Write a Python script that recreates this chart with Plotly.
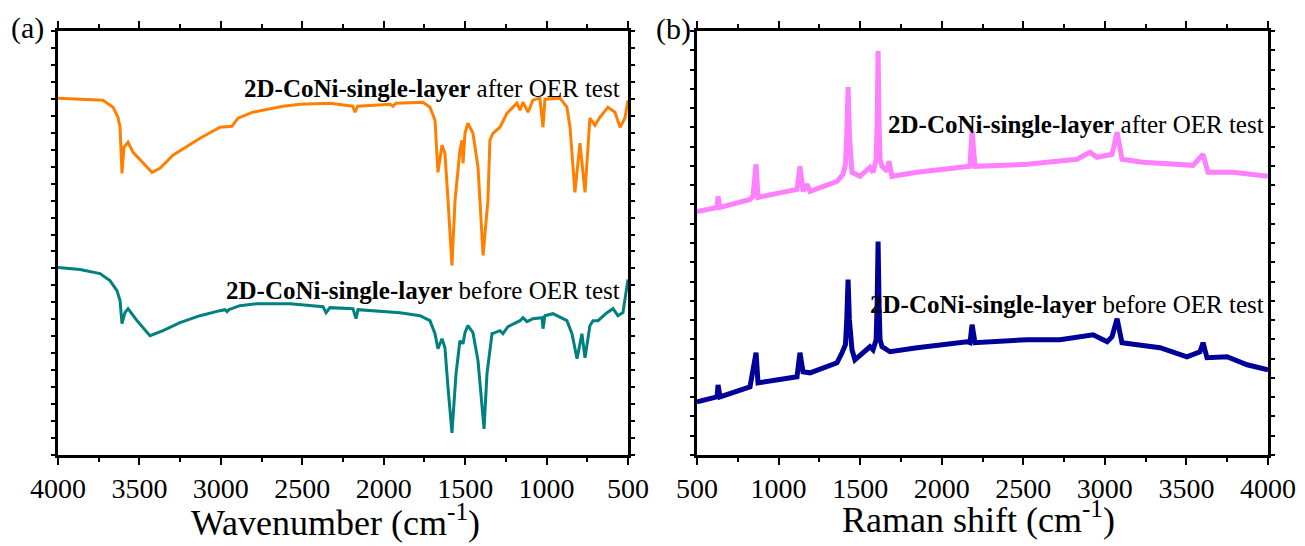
import plotly.graph_objects as go

# ---------------- data ----------------
# (a) FT-IR, wavenumber (cm-1) vs transmittance (a.u.)
ir_after_x = [4000, 3724, 3662, 3632, 3619, 3607, 3595, 3570, 3539, 3478, 3423, 3374, 3294,
              3128, 3005, 2932, 2895, 2803, 2618, 2514, 2330, 2190, 2176, 2160, 1960, 1943,
              1925, 1759, 1716, 1685, 1667, 1642, 1624, 1605, 1581, 1562, 1532, 1519, 1513,
              1501, 1483, 1452, 1421, 1409, 1390, 1360, 1348, 1329, 1286, 1243, 1182, 1163,
              1145, 1114, 1084, 1041, 1022, 1010, 918, 875, 856, 826, 795, 764, 734, 703,
              672, 623, 580, 549, 519, 500]
ir_after_y = [356, 354, 347, 337, 327, 281, 307, 312, 302, 291, 282, 286, 299,
              316, 327, 328, 336, 342, 348, 350, 351, 348, 342, 348, 350, 348,
              351, 352, 347, 334, 282, 309, 301, 254, 189, 254, 304, 314, 291,
              321, 331, 321, 287, 254, 199, 254, 314, 321, 327, 341, 351, 344,
              352, 342, 354, 356, 327, 355, 356, 347, 327, 262, 311, 262, 336, 329,
              337, 347, 342, 327, 336, 354]

ir_before_x = [4000, 3865, 3742, 3681, 3638, 3619, 3607, 3589, 3570, 3515, 3435, 3355, 3251,
               3128, 3005, 2975, 2962, 2950, 2883, 2778, 2575, 2373, 2354, 2330, 2189, 2170,
               2158, 1900, 1777, 1716, 1685, 1667, 1642, 1624, 1605, 1581, 1556, 1532, 1513,
               1501, 1483, 1452, 1421, 1384, 1366, 1335, 1317, 1286, 1268, 1237, 1163, 1145,
               1120, 1084, 1028, 1022, 1010, 961, 875, 844, 813, 783, 764, 734, 715, 684,
               629, 592, 562, 531, 506, 500]
ir_before_y = [187, 185, 181, 174, 164, 154, 131, 142, 146, 134, 119, 124, 132,
               139, 144, 145, 143, 145, 149, 151, 151, 148, 142, 147, 146, 136,
               145, 142, 139, 134, 121, 106, 116, 107, 67, 22, 81, 114, 111,
               122, 129, 122, 94, 26, 81, 121, 122, 124, 121, 128, 134, 137,
               133, 136, 137, 126, 139, 141, 134, 121, 96, 121, 97, 129, 134, 134,
               142, 146, 139, 142, 169, 175]

# (b) Raman, Raman shift (cm-1) vs intensity (a.u.)
ra_after_x = [500, 623, 629, 641, 825, 843, 862, 874, 1113, 1131, 1150, 1174, 1193, 1358,
              1395, 1410, 1418, 1426, 1434, 1442, 1450, 1499, 1560, 1579, 1598, 1604, 1610,
              1616, 1622, 1634, 1665, 1677, 1695, 1849, 2155, 2173, 2186, 2204, 2523, 2829,
              2909, 2952, 3044, 3075, 3105, 3234, 3540, 3602, 3632, 3786, 4000]
ra_after_y = [243, 247, 258, 247, 255, 258, 290, 257, 265, 288, 263, 270, 263, 273,
              280, 290, 320, 367, 320, 292, 282, 278, 287, 282, 295, 330, 403,
              330, 295, 288, 283, 293, 278, 282, 287, 288, 323, 288, 290, 295,
              302, 297, 300, 322, 295, 292, 289, 300, 282, 282, 278]

ra_before_x = [500, 623, 629, 641, 825, 862, 874, 1113, 1131, 1150, 1193, 1358, 1389,
               1410, 1418, 1426, 1434, 1442, 1450, 1468, 1560, 1579, 1598, 1604, 1610,
               1616, 1622, 1634, 1683, 1849, 2112, 2155, 2173, 2186, 2204, 2523, 2725,
               2928, 3014, 3044, 3075, 3105, 3338, 3503, 3583, 3602, 3626, 3749, 3872, 4000]
ra_before_y = [53, 58, 70, 58, 68, 102, 72, 78, 102, 83, 82, 92, 102,
               110, 135, 175, 135, 112, 105, 95, 108, 105, 115, 150, 213,
               150, 115, 108, 103, 107, 112, 113, 112, 130, 112, 115, 115,
               120, 113, 118, 136, 112, 107, 98, 103, 112, 97, 98, 90, 85]

ir_ticks = [4000, 3500, 3000, 2500, 2000, 1500, 1000, 500]
ra_ticks = [500, 1000, 1500, 2000, 2500, 3000, 3500, 4000]

label_after = "<b>2D-CoNi-single-layer</b> after OER test"
label_before = "<b>2D-CoNi-single-layer</b> before OER test"

# ---------------- figure ----------------
FONT = "Liberation Serif"
W, H = 1305, 546

fig = go.Figure()
fig.add_trace(go.Scatter(x=ir_after_x, y=ir_after_y, mode="lines",
                         line=dict(color="#FF8000", width=3), xaxis="x", yaxis="y"))
fig.add_trace(go.Scatter(x=ir_before_x, y=ir_before_y, mode="lines",
                         line=dict(color="#008080", width=3), xaxis="x", yaxis="y"))
fig.add_trace(go.Scatter(x=ra_after_x, y=ra_after_y, mode="lines",
                         line=dict(color="#FF80FF", width=5), xaxis="x2", yaxis="y2"))
fig.add_trace(go.Scatter(x=ra_before_x, y=ra_before_y, mode="lines",
                         line=dict(color="#000099", width=5), xaxis="x2", yaxis="y2"))

ydom = [91 / H, 515 / H]
common_x = dict(showline=True, linewidth=2.5, linecolor="black", mirror="ticks",
                ticks="outside", ticklen=7, tickwidth=2, tickcolor="black",
                showgrid=False, zeroline=False, automargin=False,
                tickfont=dict(family=FONT, size=28, color="black"),
                minor=dict(ticks="outside", ticklen=4, tickwidth=2, tickcolor="black", dtick=250))
common_y = dict(showline=True, linewidth=2.5, linecolor="black", mirror="ticks",
                ticks="outside", ticklen=4, tickwidth=2, tickcolor="black", automargin=False,
                showgrid=False, zeroline=False, showticklabels=False, domain=ydom)

fig.update_layout(
    width=W, height=H, autosize=False,
    margin=dict(l=0, r=0, t=0, b=0),
    paper_bgcolor="white", plot_bgcolor="white",
    showlegend=False,
    xaxis=dict(domain=[58 / W, 628 / W], range=[4000, 500], tickmode="array",
               tickvals=ir_ticks, anchor="y", **common_x),
    yaxis=dict(range=[0, 423], tick0=0, dtick=423 / 25, anchor="x", **common_y),
    xaxis2=dict(domain=[697 / W, 1268 / W], range=[500, 4000], tickmode="array",
                tickvals=ra_ticks, anchor="y2", **common_x),
    yaxis2=dict(range=[0, 423], tick0=0, dtick=423 / 22, anchor="x2", **common_y),
)

ann_font = dict(family=FONT, size=25, color="black")
anns = [
    dict(x=537, y=366, xref="x", yref="y", text=label_after, xanchor="right", yanchor="middle"),
    dict(x=537, y=164, xref="x", yref="y", text=label_before, xanchor="right", yanchor="middle"),
    dict(x=3988, y=330, xref="x2", yref="y2", text=label_after, xanchor="right", yanchor="middle"),
    dict(x=3988, y=150, xref="x2", yref="y2", text=label_before, xanchor="right", yanchor="middle"),
]
for a in anns:
    fig.add_annotation(showarrow=False, font=ann_font, **a)

# panel labels and axis titles
fig.add_annotation(x=28 / W, y=1 - 28 / H, xref="paper", yref="paper", text="(a)",
                   showarrow=False, font=dict(family=FONT, size=30, color="black"),
                   xanchor="center", yanchor="middle")
fig.add_annotation(x=673 / W, y=1 - 29 / H, xref="paper", yref="paper", text="(b)",
                   showarrow=False, font=dict(family=FONT, size=30, color="black"),
                   xanchor="center", yanchor="middle")
fig.add_annotation(x=335 / W, y=1 - 520 / H, xref="paper", yref="paper",
                   text="Wavenumber (cm<sup>-1</sup>)", showarrow=False,
                   font=dict(family=FONT, size=36, color="black"),
                   xanchor="center", yanchor="middle")
fig.add_annotation(x=978 / W, y=1 - 517 / H, xref="paper", yref="paper",
                   text="Raman shift (cm<sup>-1</sup>)", showarrow=False,
                   font=dict(family=FONT, size=36, color="black"),
                   xanchor="center", yanchor="middle")

fig.write_html("out.html")
